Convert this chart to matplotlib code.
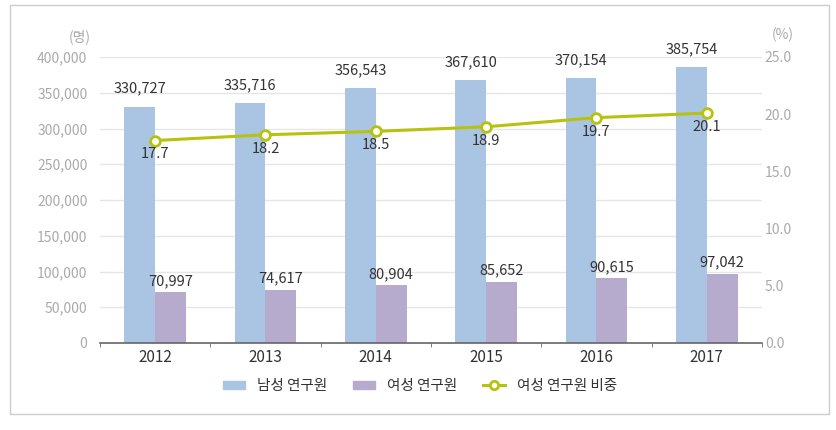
import numpy as np
import matplotlib
matplotlib.use("Agg")
import matplotlib.pyplot as plt
from matplotlib.patches import Patch, Rectangle
from matplotlib.lines import Line2D

plt.rcParams['font.family'] = ['Noto Sans CJK KR', 'DejaVu Sans']

years = ['2012', '2013', '2014', '2015', '2016', '2017']
male = [330727, 335716, 356543, 367610, 370154, 385754]
female = [70997, 74617, 80904, 85652, 90615, 97042]
ratio = [17.7, 18.2, 18.5, 18.9, 19.7, 20.1]

c_male = '#aac5e3'
c_female = '#b6abcc'
c_line = '#b7c20f'
c_tick = '#aaaaaa'
c_text = '#333333'

fig = plt.figure(figsize=(8.37, 4.30), dpi=100)
fig.patches.append(Rectangle((10 / 837, 16 / 430), 819 / 837, 409 / 430,
                             transform=fig.transFigure, fill=False,
                             edgecolor='#cccccc', linewidth=1))

ax = fig.add_axes([100 / 837, 87 / 430, 662 / 837, 286 / 430])
x = np.arange(len(years))
w = 0.28

ax.bar(x - w / 2, male, w, color=c_male, zorder=2)
ax.bar(x + w / 2, female, w, color=c_female, zorder=2)

ax.set_ylim(0, 400000)
ax.set_xlim(-0.5, len(years) - 0.5)
ax.set_yticks(np.arange(0, 400001, 50000))
ax.set_yticklabels([f'{v:,}' for v in range(0, 400001, 50000)])
ax.yaxis.grid(True, color='#e6e6e6', linewidth=1, zorder=0)
ax.set_axisbelow(True)
ax.tick_params(axis='y', length=0, pad=9, labelsize=10, labelcolor=c_tick)
ax.set_xticks(x)
ax.set_xticklabels(years, fontsize=11, color=c_text)
ax.tick_params(axis='x', length=0, pad=4)
ax.set_xticks(np.arange(-0.5, len(years), 1), minor=True)
ax.tick_params(axis='x', which='minor', length=3, color='#666666', direction='out')
for s in ['top', 'left', 'right']:
    ax.spines[s].set_visible(False)
ax.spines['bottom'].set_color('#666666')
ax.spines['bottom'].set_linewidth(1.2)

for i in range(len(years)):
    ax.annotate(f'{male[i]:,}', (x[i] - w / 2, male[i]), xytext=(0, 8),
                textcoords='offset points', ha='center', va='bottom',
                fontsize=10.5, color=c_text)
    ax.annotate(f'{female[i]:,}', (x[i] + w / 2, female[i]), xytext=(0, 3),
                textcoords='offset points', ha='center', va='bottom',
                fontsize=10.5, color=c_text)

ax2 = ax.twinx()
ax2.set_ylim(0, 25)
ax2.set_yticks(np.arange(0, 25.1, 5))
ax2.set_yticklabels([f'{v:.1f}' for v in np.arange(0, 25.1, 5)])
ax2.tick_params(axis='y', length=0, pad=2, labelsize=10, labelcolor=c_tick)
for s in ax2.spines.values():
    s.set_visible(False)
ax2.plot(x, ratio, color=c_line, linewidth=2.2, marker='o', markersize=7,
         markerfacecolor='white', markeredgecolor=c_line, markeredgewidth=2, zorder=3)
for i in range(len(years)):
    ax2.annotate(f'{ratio[i]}', (x[i], ratio[i]), xytext=(0, -5),
                 textcoords='offset points', ha='center', va='top',
                 fontsize=10.5, color=c_text)

fig.text(91 / 837, 1 - 37 / 430, '(명)', ha='right', va='center', fontsize=10, color=c_tick)
fig.text(783 / 837, 1 - 35 / 430, '(%)', ha='center', va='center', fontsize=10, color=c_tick)

handles = [Patch(color=c_male), Patch(color=c_female),
           Line2D([0], [0], color=c_line, linewidth=2.2, marker='o', markersize=6,
                  markerfacecolor='white', markeredgecolor=c_line, markeredgewidth=2)]
labels = ['남성 연구원', '여성 연구원', '여성 연구원 비중']
fig.legend(handles, labels, loc='center', bbox_to_anchor=(420 / 837, 1 - 386 / 430),
           ncol=3, frameon=False, fontsize=10.5, handlelength=1.5, handleheight=0.5,
           columnspacing=1.8, handletextpad=0.8, labelcolor=c_text)

fig.savefig('out.png', dpi=100)
